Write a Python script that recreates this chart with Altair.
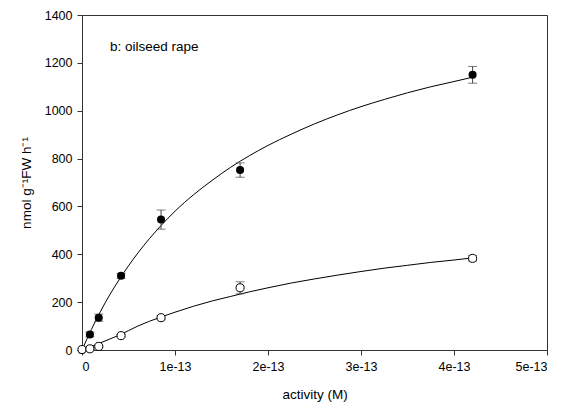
import altair as alt
import pandas as pd

# Measured points (activity in M)
x_pts = [0, 0.085e-13, 0.18e-13, 0.42e-13, 0.85e-13, 1.7e-13, 4.2e-13]
filled_y = [0, 65, 135, 310, 545, 752, 1150]
filled_err = [0, 10, 15, 10, 40, 30, 35]
open_y = [2, 5, 15, 60, 135, 260, 383]
open_err = [0, 3, 4, 5, 8, 25, 12]

# Fitted curves
curve_x = [0, 0.1e-13, 0.2e-13, 0.3e-13, 0.4e-13, 0.6e-13, 0.85e-13, 1.0e-13, 1.2e-13,
           1.4e-13, 1.6e-13, 1.8e-13, 2.0e-13, 2.25e-13, 2.5e-13, 2.75e-13, 3.0e-13,
           3.25e-13, 3.5e-13, 3.75e-13, 4.0e-13, 4.2e-13]
curve_filled = [0, 85, 162, 232, 294, 405, 520, 580, 649, 709, 764, 812, 855, 902,
                945, 983, 1017, 1047, 1075, 1100, 1122, 1140]
curve_open = [0, 14, 30, 46, 62, 100, 138, 158, 183, 205, 224, 243, 260, 280,
              297, 313, 328, 342, 354, 366, 376, 385]

pts = pd.DataFrame({
    "x": x_pts * 2,
    "y": filled_y + open_y,
    "err": filled_err + open_err,
    "series": ["filled"] * len(x_pts) + ["open"] * len(x_pts),
})
pts["lo"] = pts["y"] - pts["err"]
pts["hi"] = pts["y"] + pts["err"]
errs = pts[pts["err"] > 0]

curves = pd.DataFrame({
    "x": curve_x * 2,
    "y": curve_filled + curve_open,
    "series": ["filled"] * len(curve_x) + ["open"] * len(curve_x),
})

FONT = "Liberation Sans"

xscale = alt.Scale(domain=[0, 5e-13], nice=False, zero=False)
yscale = alt.Scale(domain=[0, 1400], nice=False)

xaxis = alt.Axis(
    title="activity (M)",
    values=[0, 1e-13, 2e-13, 3e-13, 4e-13, 5e-13],
    labelExpr="datum.value == 0 ? '0' : format(datum.value, '.0e')",
    grid=False, tickSize=5, tickColor="#333", domainColor="#333",
    labelFontSize=12.5, titleFontSize=13.5, labelFont=FONT, titleFont=FONT,
    labelColor="black", titleColor="black", titlePadding=15, labelPadding=5,
    titleFontWeight="normal",
)
yaxis = alt.Axis(
    title="nmol g⁻¹FW h⁻¹",
    values=[0, 200, 400, 600, 800, 1000, 1200, 1400],
    format="d",
    grid=False, tickSize=5, tickColor="#333", domainColor="#333",
    labelFontSize=12.5, titleFontSize=13.5, labelFont=FONT, titleFont=FONT,
    labelColor="black", titleColor="black", titlePadding=11, labelPadding=5,
    titleFontWeight="normal",
)

base_x = alt.X("x:Q", scale=xscale, axis=xaxis)
base_y = alt.Y("y:Q", scale=yscale, axis=yaxis)

lines = alt.Chart(curves).mark_line(
    color="black", strokeWidth=1, clip=True, interpolate="monotone"
).encode(x=base_x, y=base_y, detail="series:N")

rules = alt.Chart(errs).mark_rule(color="#444", strokeWidth=1).encode(
    x=alt.X("x:Q", scale=xscale), y=alt.Y("lo:Q", scale=yscale), y2="hi:Q"
)
caps_lo = alt.Chart(errs).mark_tick(color="#444", orient="horizontal", size=9, thickness=1).encode(
    x=alt.X("x:Q", scale=xscale), y=alt.Y("lo:Q", scale=yscale)
)
caps_hi = alt.Chart(errs).mark_tick(color="#444", orient="horizontal", size=9, thickness=1).encode(
    x=alt.X("x:Q", scale=xscale), y=alt.Y("hi:Q", scale=yscale)
)

filled_pts = alt.Chart(pts[pts["series"] == "filled"]).mark_point(
    shape="circle", filled=True, color="black", size=65, opacity=1
).encode(x=alt.X("x:Q", scale=xscale), y=alt.Y("y:Q", scale=yscale))

open_pts = alt.Chart(pts[pts["series"] == "open"]).mark_point(
    shape="circle", filled=True, fill="white", stroke="black", strokeWidth=1, size=65, opacity=1
).encode(x=alt.X("x:Q", scale=xscale), y=alt.Y("y:Q", scale=yscale))

label = alt.Chart(pd.DataFrame({"t": ["b: oilseed rape"]})).mark_text(
    align="left", baseline="middle", fontSize=13.5, font=FONT, color="black"
).encode(x=alt.value(28), y=alt.value(32), text="t:N")

chart = alt.layer(lines, rules, caps_lo, caps_hi, filled_pts, open_pts, label).properties(
    width=465, height=335,
    autosize=alt.AutoSizeParams(type="none"),
    padding={"left": 74, "top": 7, "right": 10, "bottom": 60},
).configure_view(stroke="#333", strokeWidth=1)

chart.save("out.html", embed_options={"renderer": "svg", "actions": False})
